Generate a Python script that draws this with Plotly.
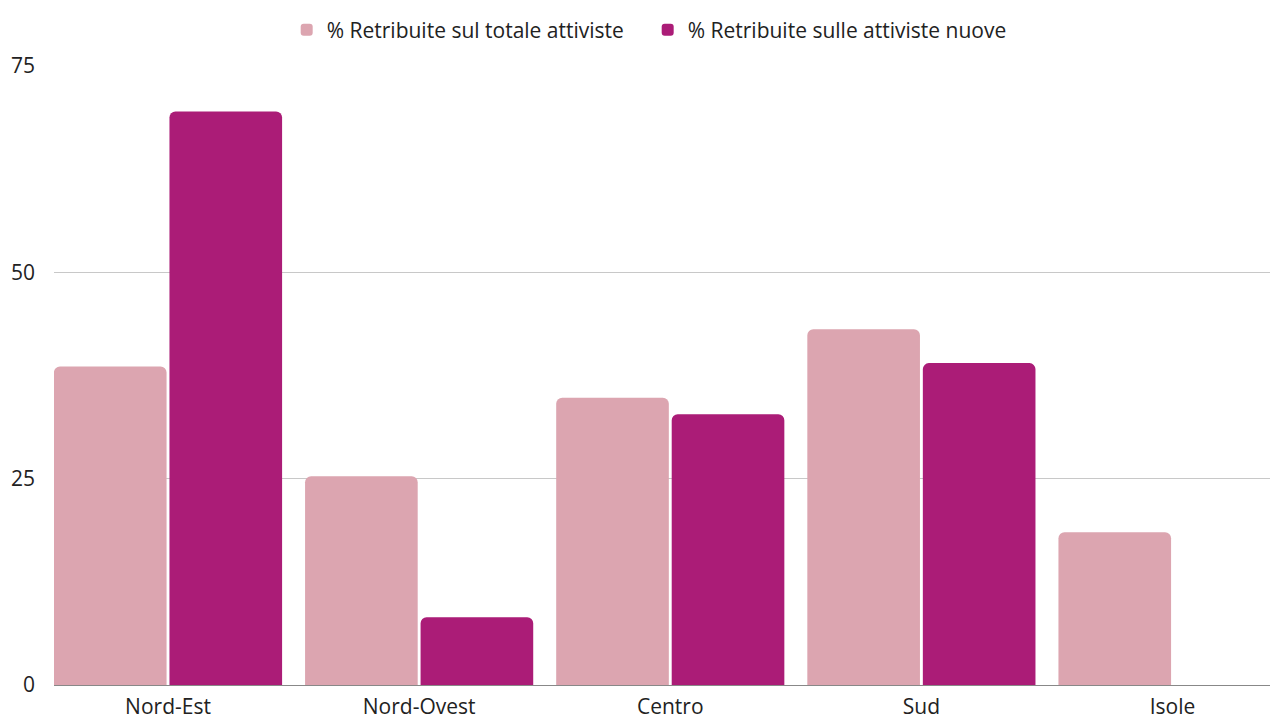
import plotly.graph_objects as go

categories = ["Nord-Est", "Nord-Ovest", "Centro", "Sud", "Isole"]
series_totale = [38.6, 25.3, 34.8, 43.1, 18.5]
series_nuove = [69.5, 8.2, 32.8, 39.0, None]
name_totale = "% Retribuite sul totale attiviste"
name_nuove = "% Retribuite sulle attiviste nuove"
y_ticks = [0, 25, 50, 75]

FONT = "'Open Sans', Lato, sans-serif"

fig = go.Figure()
fig.add_trace(go.Bar(x=categories, y=series_totale, name=name_totale,
                     marker=dict(color="#DCA5B0", line=dict(width=0))))
fig.add_trace(go.Bar(x=categories, y=series_nuove, name=name_nuove,
                     marker=dict(color="#AB1C77", line=dict(width=0))))

# page body has an 8px margin; size the figure so the plot lands where the reference has it
fig.update_layout(
    width=1270, height=712,
    margin=dict(l=46, r=0, t=58, b=35, autoexpand=False),
    paper_bgcolor="white", plot_bgcolor="white",
    barmode="group", bargap=0.08, bargroupgap=0.025,
    barcornerradius=6,
    font=dict(family=FONT, size=21, color="#222222"),
    legend=dict(orientation="h", x=0.5 - 19 / 1270, xanchor="center", y=1 - 22 / 712,
                yanchor="middle", yref="container", font=dict(size=21, color="#222222"),
                itemwidth=30, entrywidth=316, traceorder="normal"),
    showlegend=True,
)
fig.update_xaxes(range=[-0.454, 4.42], showgrid=False, showline=True,
                 linecolor="#888888", linewidth=1, ticks="", tickfont=dict(size=21),
                 ticklabelstandoff=3, fixedrange=True)
fig.update_yaxes(range=[0, 75], tickvals=y_ticks, showgrid=True, gridcolor="#C8C8C8",
                 gridwidth=1, zeroline=False, showline=False, ticks="",
                 ticklabelstandoff=18, tickfont=dict(size=21), fixedrange=True)

fig.write_html("out.html")
